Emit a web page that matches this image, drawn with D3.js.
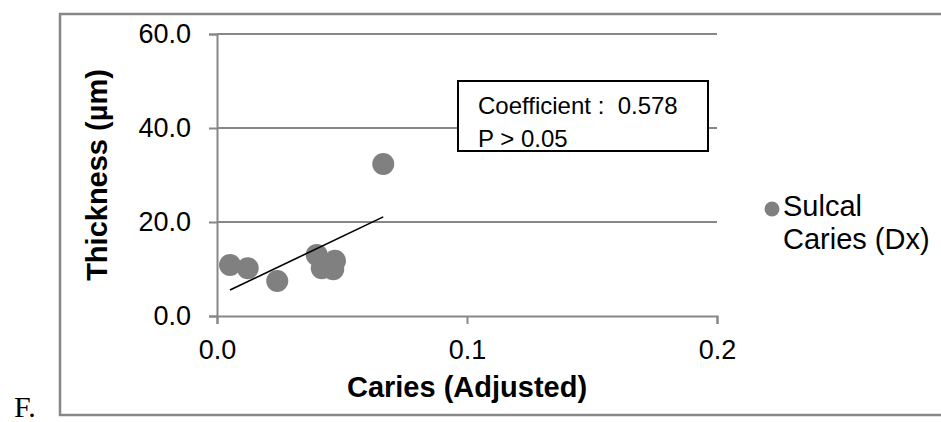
<!DOCTYPE html>
<html>
<head>
<meta charset="utf-8">
<script src="https://cdn.jsdelivr.net/npm/d3@7"></script>
<style>
  html, body { margin: 0; padding: 0; background: #fff; }
  svg { display: block; }
  text { font-family: "Liberation Sans", Arial, sans-serif; }
</style>
</head>
<body>
<svg id="chart" width="941" height="422"></svg>
<script>
// ---- data ----
const caries = [0.0052, 0.0123, 0.0241, 0.0399, 0.0419, 0.0472, 0.0465, 0.0665];
const thickness = [10.85, 10.15, 7.45, 13.0, 10.15, 11.77, 9.94, 32.34];
const xTicks = [0.0, 0.1, 0.2];
const yTicks = [0.0, 20.0, 40.0, 60.0];
const seriesName = ["Sulcal", "Caries (Dx)"];
const annotation = ["Coefficient :  0.578", "P > 0.05"];
const xTitle = "Caries (Adjusted)";
const yTitle = "Thickness (µm)";
const panelLabel = "F.";

const svg = d3.select("#chart");
const grey = "#878787";
const ptColor = "#808080";

const x = d3.scaleLinear().domain([0, 0.2]).range([217, 717]);
const y = d3.scaleLinear().domain([0, 60]).range([316, 34]);

// outer frame
svg.append("rect").attr("x", 60).attr("y", 14).attr("width", 940).attr("height", 401)
  .attr("fill", "none").attr("stroke", grey).attr("stroke-width", 2.5);

// panel label
svg.append("text").attr("x", 14).attr("y", 417).text(panelLabel)
  .style("font-family", '"Liberation Serif", "Times New Roman", serif')
  .style("font-size", "30px").attr("fill", "#000");

// gridlines
svg.append("g").selectAll("line").data(yTicks.filter(d => d > 0)).join("line")
  .attr("x1", x(0)).attr("x2", x(0.2)).attr("y1", d => y(d)).attr("y2", d => y(d))
  .attr("stroke", grey).attr("stroke-width", 2);

// y axis
const yAxis = svg.append("g").attr("transform", `translate(${x(0)},0)`)
  .call(d3.axisLeft(y).tickValues(yTicks).tickFormat(d3.format(".1f")).tickSize(8).tickPadding(18));
yAxis.select(".domain").attr("stroke", grey).attr("stroke-width", 2);
yAxis.selectAll(".tick line").attr("stroke", grey).attr("stroke-width", 2);
yAxis.selectAll("text").style("font-size", "27px").attr("fill", "#000");

// x axis
const xAxis = svg.append("g").attr("transform", `translate(0,${y(0)})`)
  .call(d3.axisBottom(x).tickValues(xTicks).tickFormat(d3.format(".1f")).tickSize(8).tickPadding(16));
xAxis.select(".domain").attr("stroke", grey).attr("stroke-width", 2);
xAxis.selectAll(".tick line").attr("stroke", grey).attr("stroke-width", 2);
xAxis.selectAll("text").style("font-size", "27px").attr("fill", "#000");

// axis titles
svg.append("text").attr("x", x(0.1)).attr("y", 397).attr("text-anchor", "middle")
  .style("font-size", "29px").style("font-weight", "bold").text(xTitle);
svg.append("text").attr("transform", `translate(107,${(y(0) + y(60)) / 2}) rotate(-90)`)
  .attr("text-anchor", "middle")
  .style("font-size", "29px").style("font-weight", "bold").text(yTitle);

// points
const pts = caries.map((c, i) => ({ x: c, y: thickness[i] }));
svg.append("g").selectAll("circle").data(pts).join("circle")
  .attr("cx", d => x(d.x)).attr("cy", d => y(d.y)).attr("r", 11)
  .attr("fill", ptColor);

// linear regression trendline
const mx = d3.mean(caries), my = d3.mean(thickness);
const slope = d3.sum(pts, d => (d.x - mx) * (d.y - my)) / d3.sum(pts, d => (d.x - mx) ** 2);
const icpt = my - slope * mx;
const [x0, x1] = d3.extent(caries);
svg.append("line")
  .attr("x1", x(x0)).attr("y1", y(icpt + slope * x0))
  .attr("x2", x(x1)).attr("y2", y(icpt + slope * x1))
  .attr("stroke", "#000").attr("stroke-width", 1.6);

// annotation box
svg.append("rect").attr("x", 458).attr("y", 81).attr("width", 250).attr("height", 70)
  .attr("fill", "#fff").attr("stroke", "#000").attr("stroke-width", 2);
svg.append("g").selectAll("text").data(annotation).join("text")
  .attr("x", 478).attr("y", (d, i) => 114 + i * 33)
  .attr("xml:space", "preserve").style("white-space", "pre")
  .style("font-size", "24px").attr("fill", "#000").text(d => d);

// legend
svg.append("circle").attr("cx", 772).attr("cy", 209).attr("r", 7.5).attr("fill", ptColor);
svg.append("g").selectAll("text").data(seriesName).join("text")
  .attr("x", 783).attr("y", (d, i) => 216 + i * 33)
  .style("font-size", "29px").attr("fill", "#000").text(d => d);
</script>
</body>
</html>
